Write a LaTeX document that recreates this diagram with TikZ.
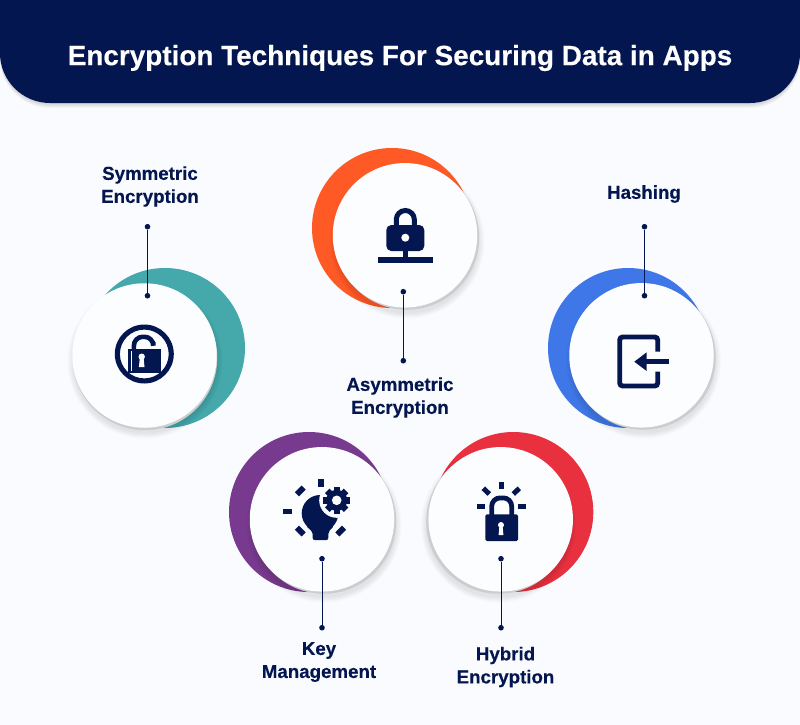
\documentclass[tikz,border=0pt]{standalone}
\usepackage{fontspec}
\setmainfont[BoldFeatures={FakeBold=0.35}]{Liberation Sans}
\definecolor{bgc}{HTML}{F9FBFE}
\definecolor{discc}{HTML}{FCFDFF}
\definecolor{navy}{HTML}{04164F}
\definecolor{tealc}{HTML}{45A8AB}
\definecolor{orangec}{HTML}{FF5A26}
\definecolor{bluec}{HTML}{3F77E8}
\definecolor{purplec}{HTML}{773A8F}
\definecolor{redc}{HTML}{E8303F}
\definecolor{rimc}{HTML}{CDCDCF}
\tikzset{
  moon/.style={circle,minimum size=160pt,inner sep=0pt,outer sep=0pt},
  disc/.style={circle,fill=discc,minimum size=144.5pt,inner sep=0pt,outer sep=0pt},
  rim/.style={circle,fill=rimc,minimum size=144.5pt,inner sep=0pt,outer sep=0pt},
  haze/.style={circle,fill=black,minimum size=#1,inner sep=0pt,outer sep=0pt,opacity=0.014},
  dotnode/.style={circle,fill=navy,minimum size=5.6pt,inner sep=0pt,outer sep=0pt},
  link/.style={draw=navy,line width=1pt},
  lbl/.style={text=navy,font=\fontsize{18.7}{23}\selectfont\bfseries,align=center,inner sep=0pt},
  ico/.style={fill=navy,draw=none},
  hole/.style={fill=discc,draw=none}
}
\newcommand{\softshadow}[2]{% centre of the shadow
  \foreach \s in {145,147,149,151,153,155}{\node[haze=\s pt] at (#1,#2) {};}
}
\begin{document}
\begin{tikzpicture}[x=1pt,y=-1pt]
\useasboundingbox (0,0) rectangle (800,725);
\fill[bgc] (0,0) rectangle (800,725);
% header
\foreach \d in {1,2,3,4,5}{
  \fill[black,opacity=0.03,rounded corners=50pt] (0,-60) -- (0,103+\d) -- (800,103+\d) -- (800,-60) -- cycle;
}
\fill[navy,rounded corners=50pt] (0,-60) -- (0,103) -- (800,103) -- (800,-60) -- cycle;
\node[text=white,font=\fontsize{27.9}{32}\selectfont\bfseries,inner sep=0pt] (title) at (400,58) {Encryption Techniques For Securing Data in Apps};

% crescents
\node[moon,fill=tealc] (symMoon) at (165,348) {};
\node[moon,fill=orangec] (asyMoon) at (392,228) {};
\node[moon,fill=bluec] (hasMoon) at (628,348) {};
\node[moon,fill=purplec] (keyMoon) at (309,512) {};
\node[moon,fill=redc] (hybMoon) at (513.3,512) {};

% shadows and discs
\softshadow{145}{361}
\node[rim] at (145,358) {};
\node[disc] (symDisc) at (144.5,355.5) {};
\softshadow{407}{241}
\node[rim] at (407,237.5) {};
\node[disc] (asyDisc) at (405,235.3) {};
\softshadow{643.5}{361}
\node[rim] at (643.5,357.5) {};
\node[disc] (hasDisc) at (641.5,355.3) {};
\softshadow{324}{525}
\node[rim] at (324,521.5) {};
\node[disc] (keyDisc) at (322,519.3) {};
\softshadow{498.5}{525}
\node[rim] at (498.5,521.5) {};
\node[disc] (hybDisc) at (500.7,519.3) {};

% symmetric icon
\fill[ico,even odd rule] (144.3,354) circle (29.5) (144.3,354) circle (24.4);
\draw[navy,line width=4.6pt,rounded corners=8.8pt] (133.9,350) -- (133.9,336.8) -- (153.3,336.8) -- (153.3,342);
\fill[ico] (128.3,349.3) rectangle (161,372.7);
\fill[hole] (131.2,351) rectangle (132.2,371);
\fill[hole] (141.7,356.7) circle (3.2);
\fill[hole] (139.9,357) -- (143.5,357) -- (144.5,367) -- (138.9,367) -- cycle;

% asymmetric icon
\draw[navy,line width=5pt,rounded corners=9pt] (396.3,228) -- (396.3,210.5) -- (414.3,210.5) -- (414.3,228);
\fill[ico,rounded corners=5pt] (386.3,225) rectangle (424.3,251);
\fill[hole] (405.3,237.7) circle (4);
\fill[ico] (403,250) rectangle (408,258);
\fill[ico] (378.3,257.3) rectangle (432.7,262.7);

% hashing icon
\draw[navy,line width=4.9pt,rounded corners=3pt] (657.7,351.7) -- (657.7,337) -- (619.7,337) -- (619.7,386) -- (657.7,386) -- (657.7,371.7);
\fill[ico] (634.3,361.7) -- (646.7,352.3) -- (646.7,371) -- cycle;
\fill[ico] (645,359.3) rectangle (668.7,364);

% key management icon
\fill[ico] (320,513.3) circle (18.3);
\fill[ico,rounded corners=2pt] (306,526) -- (334,526) -- (328.3,532) -- (328.3,540) -- (312.7,540) -- (312.7,532) -- cycle;
\fill[hole] (336.7,500.3) circle (17.5);
\foreach \a in {0,45,...,315}{
  \fill[ico,rotate around={\a:(336.7,500.3)}] (333.5,487) rectangle (339.9,495);
}
\fill[ico] (336.7,500.3) circle (10.5);
\fill[hole] (336.7,500.3) circle (4.8);
\fill[ico] (318,479) rectangle (323.5,487);
\fill[ico] (283,508.8) rectangle (291.5,513.8);
\foreach \cx/\cy/\ang in {300.3/491/45,300.3/531/-45,340.7/531/45}{
  \fill[ico,rotate around={\ang:(\cx,\cy)}] (\cx-4.8,\cy-2.9) rectangle (\cx+4.8,\cy+2.9);
}

% hybrid icon
\draw[navy,line width=4.8pt,rounded corners=8.4pt] (491.7,516) -- (491.7,497.9) -- (511.7,497.9) -- (511.7,516);
\fill[ico,rounded corners=1.5pt] (485.3,514.3) rectangle (518,541);
\fill[hole] (501,525) circle (3);
\fill[hole] (499.4,526) -- (502.6,526) -- (503.4,535) -- (498.6,535) -- cycle;
\fill[ico] (498.8,481.7) rectangle (503.8,489.3);
\fill[ico] (477,503.5) rectangle (484.7,508.5);
\fill[ico] (518.3,503.5) rectangle (525.7,508.5);
\draw[navy,line width=5pt] (483.3,488.3) -- (489.3,494);
\draw[navy,line width=5pt] (519.3,488.3) -- (513.3,494);

% connectors
\node[dotnode] (symA) at (147.5,226.7) {};
\node[dotnode] (symB) at (147.5,295.7) {};
\draw[link] (symA) -- (symB);
\node[dotnode] (asyA) at (403.3,291.7) {};
\node[dotnode] (asyB) at (403.3,360.7) {};
\draw[link] (asyA) -- (asyB);
\node[dotnode] (hasA) at (644.5,226.7) {};
\node[dotnode] (hasB) at (644.5,295.7) {};
\draw[link] (hasA) -- (hasB);
\node[dotnode] (keyA) at (322,558.7) {};
\node[dotnode] (keyB) at (322,627.7) {};
\draw[link] (keyA) -- (keyB);
\node[dotnode] (hybA) at (501,558.7) {};
\node[dotnode] (hybB) at (501,627.7) {};
\draw[link] (hybA) -- (hybB);

% labels
\node[lbl] (symL) at (150,186.5) {Symmetric\\Encryption};
\node[lbl] (hasL) at (644,194) {Hashing};
\node[lbl] (asyL) at (400,397.5) {Asymmetric\\Encryption};
\node[lbl] (keyL) at (319,662) {Key\\Management};
\node[lbl] (hybL) at (505.5,667) {Hybrid\\Encryption};
\end{tikzpicture}
\end{document}
